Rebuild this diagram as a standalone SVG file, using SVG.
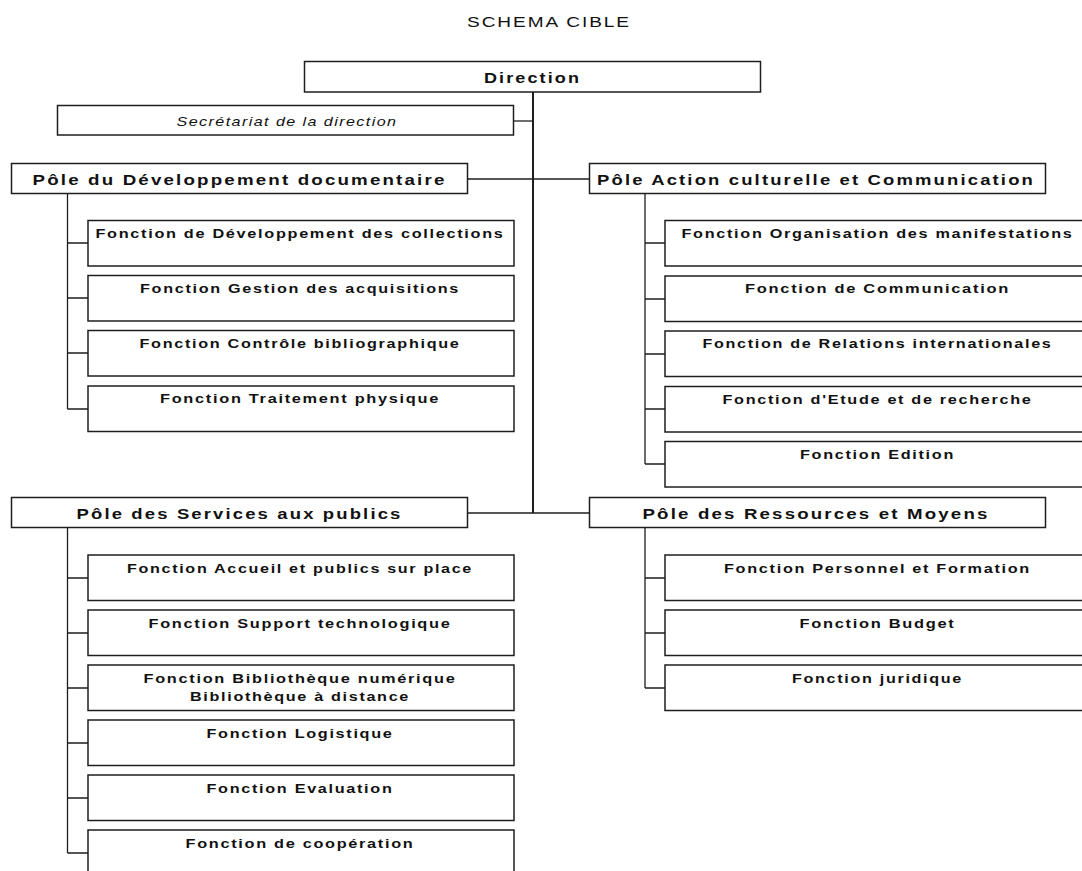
<svg xmlns="http://www.w3.org/2000/svg" width="1082" height="871" viewBox="0 0 1082 871">
<style>
.bg{fill:#fff}
.box{fill:#fff;stroke:#1e1e1e;stroke-width:1.5}
.conn{fill:none;stroke:#1e1e1e;stroke-width:1.3}
.trunk{fill:none;stroke:#1e1e1e;stroke-width:2}
text{font-family:"Liberation Sans",Arial,sans-serif;text-anchor:middle;fill:#111}
.title{font-size:14.5px;letter-spacing:1.5px}
.pole{font-weight:bold;font-size:15.5px;letter-spacing:1.8px}
.fn{font-weight:bold;font-size:13.5px;letter-spacing:1.4px}
.sec{font-style:italic;font-size:13.5px;letter-spacing:1.2px}
</style>
<rect class="bg" x="0" y="0" width="1082" height="871"/>
<text class="title" x="549" y="27" textLength="164" lengthAdjust="spacingAndGlyphs">SCHEMA CIBLE</text>

<g id="connectors">
<path class="trunk" d="M533 92 V513"/>
<path class="conn" d="M514 121 H533"/>
<path class="conn" d="M468 179 H589"/>
<path class="conn" d="M468 513 H589"/>
<path class="conn" d="M67.5 194 V409 M67.5 243 H88 M67.5 298 H88 M67.5 353 H88 M67.5 409 H88"/>
<path class="conn" d="M645 194 V464 M645 243 H665 M645 299 H665 M645 354 H665 M645 409 H665 M645 464 H665"/>
<path class="conn" d="M67.5 528 V853 M67.5 578 H88 M67.5 633 H88 M67.5 688 H88 M67.5 743 H88 M67.5 798 H88 M67.5 853 H88"/>
<path class="conn" d="M645 528 V688 M645 578 H665 M645 633 H665 M645 688 H665"/>
</g>

<g id="direction"><rect class="box" x="304.5" y="61.5" width="456" height="30.5"/><text class="pole" x="532.5" y="82.5" textLength="97" lengthAdjust="spacingAndGlyphs">Direction</text></g>
<g id="secretariat"><rect class="box" x="57.5" y="105.5" width="456" height="29.5"/><text class="sec" x="287" y="125.5" textLength="221" lengthAdjust="spacingAndGlyphs">Secrétariat de la direction</text></g>

<g id="pole-dev"><rect class="box" x="11.5" y="163.5" width="456" height="30"/><text class="pole" x="239.5" y="184.5" textLength="414" lengthAdjust="spacingAndGlyphs">Pôle du Développement documentaire</text></g>
<g id="pole-action"><rect class="box" x="589.5" y="163.5" width="456" height="30"/><text class="pole" x="816" y="184.5" textLength="438" lengthAdjust="spacingAndGlyphs">Pôle Action culturelle et Communication</text></g>
<g id="pole-services"><rect class="box" x="11.5" y="497.5" width="456" height="30"/><text class="pole" x="239.5" y="518.5" textLength="326" lengthAdjust="spacingAndGlyphs">Pôle des Services aux publics</text></g>
<g id="pole-ressources"><rect class="box" x="589.5" y="497.5" width="456" height="30"/><text class="pole" x="816" y="518.5" textLength="347" lengthAdjust="spacingAndGlyphs">Pôle des Ressources et Moyens</text></g>

<g id="fn-dev-collections"><rect class="box" x="88" y="220.5" width="426" height="45.5"/><text class="fn" x="300" y="237.5" textLength="409" lengthAdjust="spacingAndGlyphs">Fonction de Développement des collections</text></g>
<g id="fn-acquisitions"><rect class="box" x="88" y="275.5" width="426" height="45.5"/><text class="fn" x="300" y="292.5" textLength="320" lengthAdjust="spacingAndGlyphs">Fonction Gestion des acquisitions</text></g>
<g id="fn-controle"><rect class="box" x="88" y="330.5" width="426" height="45.5"/><text class="fn" x="300" y="347.5" textLength="321" lengthAdjust="spacingAndGlyphs">Fonction Contrôle bibliographique</text></g>
<g id="fn-traitement"><rect class="box" x="88" y="386" width="426" height="45.5"/><text class="fn" x="300" y="403" textLength="280" lengthAdjust="spacingAndGlyphs">Fonction Traitement physique</text></g>

<g id="fn-manifestations"><rect class="box" x="665" y="220.5" width="426" height="45.5"/><text class="fn" x="877.5" y="237.5" textLength="392" lengthAdjust="spacingAndGlyphs">Fonction Organisation des manifestations</text></g>
<g id="fn-communication"><rect class="box" x="665" y="276" width="426" height="45.5"/><text class="fn" x="877.5" y="293" textLength="265" lengthAdjust="spacingAndGlyphs">Fonction de Communication</text></g>
<g id="fn-relations"><rect class="box" x="665" y="331" width="426" height="45.5"/><text class="fn" x="877.5" y="348" textLength="350" lengthAdjust="spacingAndGlyphs">Fonction de Relations internationales</text></g>
<g id="fn-etude"><rect class="box" x="665" y="386.5" width="426" height="45.5"/><text class="fn" x="877.5" y="403.5" textLength="310" lengthAdjust="spacingAndGlyphs">Fonction d'Etude et de recherche</text></g>
<g id="fn-edition"><rect class="box" x="665" y="441.5" width="426" height="45.5"/><text class="fn" x="877.5" y="458.5" textLength="155" lengthAdjust="spacingAndGlyphs">Fonction Edition</text></g>

<g id="fn-accueil"><rect class="box" x="88" y="555" width="426" height="45.5"/><text class="fn" x="300" y="572.5" textLength="346" lengthAdjust="spacingAndGlyphs">Fonction Accueil et publics sur place</text></g>
<g id="fn-support"><rect class="box" x="88" y="610" width="426" height="45.5"/><text class="fn" x="300" y="627.5" textLength="303" lengthAdjust="spacingAndGlyphs">Fonction Support technologique</text></g>
<g id="fn-bibnum"><rect class="box" x="88" y="665" width="426" height="45.5"/><text class="fn" x="300" y="682.5" textLength="313" lengthAdjust="spacingAndGlyphs">Fonction Bibliothèque numérique</text><text class="fn" x="300" y="700.5" textLength="220" lengthAdjust="spacingAndGlyphs">Bibliothèque à distance</text></g>
<g id="fn-logistique"><rect class="box" x="88" y="720" width="426" height="45.5"/><text class="fn" x="300" y="737.5" textLength="187" lengthAdjust="spacingAndGlyphs">Fonction Logistique</text></g>
<g id="fn-evaluation"><rect class="box" x="88" y="775" width="426" height="45.5"/><text class="fn" x="300" y="792.5" textLength="187" lengthAdjust="spacingAndGlyphs">Fonction Evaluation</text></g>
<g id="fn-cooperation"><rect class="box" x="88" y="830" width="426" height="45.5"/><text class="fn" x="300" y="847.5" textLength="229" lengthAdjust="spacingAndGlyphs">Fonction de coopération</text></g>

<g id="fn-personnel"><rect class="box" x="665" y="555" width="426" height="45.5"/><text class="fn" x="877.5" y="572.5" textLength="307" lengthAdjust="spacingAndGlyphs">Fonction Personnel et Formation</text></g>
<g id="fn-budget"><rect class="box" x="665" y="610" width="426" height="45.5"/><text class="fn" x="877.5" y="627.5" textLength="156" lengthAdjust="spacingAndGlyphs">Fonction Budget</text></g>
<g id="fn-juridique"><rect class="box" x="665" y="665" width="426" height="45.5"/><text class="fn" x="877.5" y="682.5" textLength="171" lengthAdjust="spacingAndGlyphs">Fonction juridique</text></g>
</svg>
